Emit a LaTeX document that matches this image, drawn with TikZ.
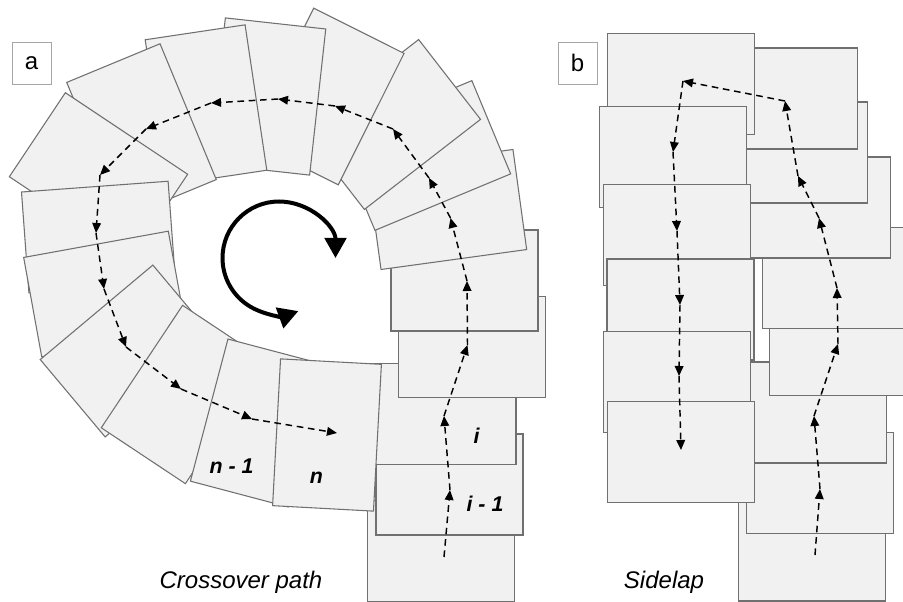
\documentclass[tikz,border=0pt]{standalone}
\usepackage{fontspec}
\setmainfont{Liberation Sans}
\usetikzlibrary{arrows.meta}
\definecolor{pfill}{HTML}{F1F1F1}
\definecolor{pline}{HTML}{707070}
\begin{document}
\begin{tikzpicture}[x=0.75pt,y=-0.75pt,
  piece/.style={draw=pline, fill=pfill, line width=0.8pt, minimum width=110.25pt, minimum height=75.75pt, inner sep=0pt, outer sep=0pt},
  pieceb/.style={piece, line width=1.1pt},
  flow/.style={line width=1.1pt, dash pattern=on 5pt off 3.5pt, -{Triangle[length=7.5pt,width=6.5pt]}},
  tag/.style={draw=black!35, fill=white, line width=0.6pt, minimum width=29.25pt, minimum height=31.5pt, inner sep=0pt, font=\fontsize{18}{20}\selectfont},
  captext/.style={font=\fontsize{18}{20}\selectfont\itshape, anchor=base, inner sep=0pt},
  num/.style={font=\fontsize{16}{18}\selectfont\bfseries\itshape, anchor=base, inner sep=0pt}
]
\useasboundingbox (0,0) rectangle (903,602);
% ---------- panel a : pieces in path order (later on top)
\node[piece] (r1) at (441,551) {};
\node[piece] (r2) at (449.5,484.5) {};
\node[piece] (r3) at (442.5,414) {};
\node[piece] (r4) at (472,347) {};
\node[piece] (r5) at (464.5,280.5) {};
\node[piece, rotate=7.8] (r6) at (447,209.5) {};
\node[piece, rotate=22.6] (r7) at (423.4,155.5) {};
\node[piece, rotate=37.8] (r8) at (391.5,124.5) {};
\node[piece, rotate=63.4] (r9) at (326,96.5) {};
\node[piece, rotate=83.7] (r10) at (267.5,96.5) {};
\node[piece, rotate=98.5] (r11) at (206,105) {};
\node[piece, rotate=112.5] (r12) at (141.5,131) {};
\node[piece, rotate=146.3] (r13) at (98.5,175.5) {};
\node[piece, rotate=4.2] (r14) at (98.5,237) {};
\node[piece, rotate=10.3] (r15) at (105,294) {};
\node[piece, rotate=40] (r16) at (129,351) {};
\node[piece, rotate=56.4] (r17) at (184,394.5) {};
\node[piece, rotate=75.2] (r18) at (258,423) {};
\node[piece, rotate=86.9] (r19) at (327,435) {};
% path a
\coordinate (a0) at (444,557);
\coordinate (a1) at (450,490);
\coordinate (a2) at (444,416);
\coordinate (a3) at (467.5,345);
\coordinate (a4) at (467,281);
\coordinate (a5) at (450.5,218);
\coordinate (a6) at (429,178);
\coordinate (a7) at (393,129);
\coordinate (a8) at (335,106);
\coordinate (a9) at (278,99);
\coordinate (a10) at (211,103);
\coordinate (a11) at (146,129);
\coordinate (a12) at (100,175);
\coordinate (a13) at (96,233);
\coordinate (a14) at (104,289);
\coordinate (a15) at (126,347);
\coordinate (a16) at (181,389);
\coordinate (a17) at (252,419);
\coordinate (a18) at (337,433);
\foreach \i [evaluate=\i as \j using int(\i+1)] in {0,...,17}{
  \draw[flow] (a\i) -- (a\j);
}
% labels a
\node[num] (ln1) at (231.5,473) {n - 1};
\node[num] (ln) at (316.5,483) {n};
\node[num] (li) at (476.5,443) {i};
\node[num] (li1) at (485,511) {i - 1};
% rotation arrow
\coordinate (rotc) at (279,258);
\draw[line width=3pt, {Triangle[length=15pt,width=16pt]}-{Triangle[length=15pt,width=16pt]}]
  (rotc) ++(56.5,0) arc[start angle=0, end angle=-290, radius=56.5];
\node[tag] (taga) at (31.5,63) {a};
\node[captext] (capa) at (241,588) {Crossover path};
% ---------- panel b
\node[pieceb] (q8) at (812,550.5) {};
\node[pieceb] (q7) at (820,483) {};
\node[pieceb] (q6) at (813,412.5) {};
\node[pieceb] (q5) at (843,345) {};
\node[pieceb] (q4) at (836,278) {};
\node[pieceb] (q3) at (817,207.5) {};
\node[pieceb] (q2) at (794,152.5) {};
\node[pieceb] (q1) at (784,98.5) {};
\node[pieceb] (l1) at (681,84) {};
\node[pieceb] (l2) at (673,157) {};
\node[pieceb] (l3) at (677,235) {};
\node[pieceb] (l4) at (680.5,309.5) {};
\node[pieceb] (l5) at (677,382) {};
\node[pieceb] (l6) at (681,452) {};
\coordinate (b0) at (815,555);
\coordinate (b1) at (820,489);
\coordinate (b2) at (814,416);
\coordinate (b3) at (838,344);
\coordinate (b4) at (837,288);
\coordinate (b5) at (819,218);
\coordinate (b6) at (798,176);
\coordinate (b7) at (785,101);
\coordinate (b8) at (683,81);
\coordinate (b9) at (673,152);
\coordinate (b10) at (677,231);
\coordinate (b11) at (680,305);
\coordinate (b12) at (679,376);
\coordinate (b13) at (681,450);
\foreach \i [evaluate=\i as \j using int(\i+1)] in {0,...,12}{
  \draw[flow] (b\i) -- (b\j);
}
\node[tag] (tagb) at (577.5,63) {b};
\node[captext] (capb) at (664,588) {Sidelap};
\end{tikzpicture}
\end{document}
